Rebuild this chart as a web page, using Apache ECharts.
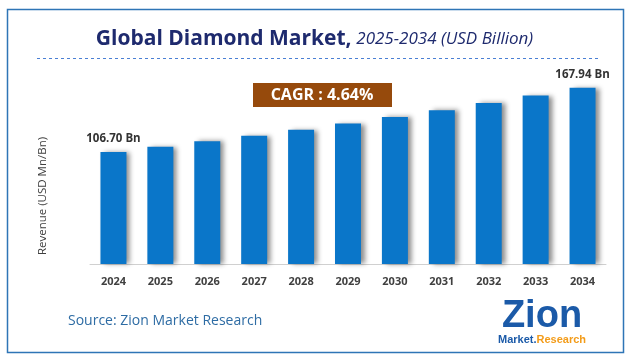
<!DOCTYPE html>
<html><head><meta charset="utf-8">
<script src="https://cdn.jsdelivr.net/npm/echarts@6/dist/echarts.min.js"></script>
<style>html,body{margin:0;padding:0;background:#fff;}#c{width:629px;height:360px;}</style>
</head><body><div id="c"></div>
<script>
const categories = ['2024','2025','2026','2027','2028','2029','2030','2031','2032','2033','2034'];
const revenue = [106.70, 111.6, 116.8, 122.2, 127.9, 133.8, 140.0, 146.5, 153.3, 160.4, 167.94];
const labeledIndex = [0, 10];
const titleMain = 'Global Diamond Market,';
const titleSub = '2025-2034 (USD Billion)';
const cagrText = 'CAGR : 4.64%';
const yAxisName = 'Revenue (USD Mn/Bn)';
const sourceText = 'Source: Zion Market Research';

const chart = echarts.init(document.getElementById('c'));
const font = '"Open Sans", "Noto Sans", sans-serif';
chart.setOption({
  animation: false,
  textStyle: {fontFamily: font},
  title: {
    text: '{a|' + titleMain + '} {b|' + titleSub + '}',
    left: 'center', top: 24,
    textStyle: {
      rich: {
        a: {fontSize: 21, fontWeight: 'bold', color: '#1e2a6e', fontFamily: font},
        b: {fontSize: 17, fontWeight: 'normal', fontStyle: 'italic', color: '#1e2a6e', fontFamily: font}
      }
    }
  },
  grid: {left: 90, right: 23, top: 54, bottom: 96},
  xAxis: {
    type: 'category', data: categories,
    axisLine: {lineStyle: {color: '#d0d0d0', width: 1}},
    axisTick: {show: false},
    axisLabel: {color: '#404040', fontWeight: 'bold', fontSize: 11, margin: 12, fontFamily: font}
  },
  yAxis: {
    type: 'value', min: 0, max: 200,
    axisLine: {show: false}, axisTick: {show: false}, axisLabel: {show: false},
    splitLine: {show: false}
  },
  series: [{
    type: 'bar', barWidth: 26,
    data: revenue.map((v, i) => ({
      value: v,
      label: {show: labeledIndex.includes(i), position: 'top', distance: 7,
        formatter: v.toFixed(2) + ' Bn', color: '#333', fontWeight: 'bold', fontSize: 11.5, fontFamily: font}
    })),
    itemStyle: {color: '#0a76c9', shadowColor: 'rgba(0,0,0,0.45)', shadowBlur: 5, shadowOffsetX: 4, shadowOffsetY: 0}
  }],
  graphic: [
    {type: 'rect', shape: {x: 7.5, y: 9.5, width: 616, height: 343}, style: {fill: 'none', stroke: '#2e75b6', lineWidth: 1.5}, silent: true},
    {type: 'line', shape: {x1: 37, y1: 58.5, x2: 600, y2: 58.5}, style: {stroke: '#4a7fd4', lineWidth: 1, lineDash: [3, 3]}},
    {type: 'text', x: 43, y: 196, rotation: Math.PI / 2, style: {text: yAxisName, align: 'center', verticalAlign: 'middle', fill: '#404040', font: '11.5px ' + font}},
    {type: 'rect', shape: {x: 253, y: 83, width: 139, height: 24}, style: {fill: '#964a0c'}},
    {type: 'text', style: {text: cagrText, x: 322, y: 95, align: 'center', verticalAlign: 'middle', fill: '#fff', font: 'bold 16px ' + font}},
    {type: 'text', style: {text: sourceText, x: 68, y: 321, verticalAlign: 'middle', fill: '#2e6ca4', font: '14px ' + font}},
    {type: 'text', style: {text: 'Zion', x: 542, y: 317, align: 'center', verticalAlign: 'middle', fill: '#1b5aa8', font: 'bold 38px "Liberation Sans", Arial, sans-serif'}},
    {type: 'text', style: {text: '{m|Market.}{r|Research}', x: 542, y: 340, align: 'center', verticalAlign: 'middle',
      rich: {m: {fill: '#1b5aa8', font: 'bold 11px "Liberation Sans", Arial, sans-serif'}, r: {fill: '#f39c1a', font: 'bold 11px "Liberation Sans", Arial, sans-serif'}}}}
  ]
});
</script></body></html>
